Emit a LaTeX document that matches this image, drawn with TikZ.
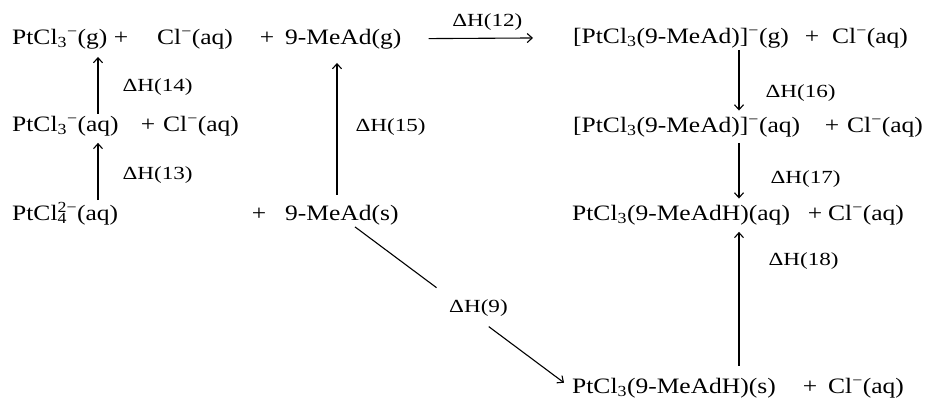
\documentclass[tikz,border=0pt]{standalone}
\usepackage{fontspec}
\setmainfont{Liberation Serif}[FakeStretch=1.16]
\newfontfamily\lblfont{Liberation Serif}[FakeStretch=1.25]
\usetikzlibrary{arrows.meta, calc}
\newcommand{\minus}{\textsuperscript{−}}
\newcommand{\subsup}[2]{\rlap{\textsubscript{#1}}\textsuperscript{#2}}
\tikzset{
    species/.style={anchor=base west, inner sep=2pt, font=\fontsize{22}{26}\selectfont},
    plus/.style={anchor=base, inner sep=2pt, font=\fontsize{22}{26}\selectfont},
    rxn/.style={-{Straight Barb[length=5pt, width=9pt]}, line width=1.1pt},
    lbl/.style={font=\lblfont\fontsize{18.5}{22}\selectfont, inner sep=2pt},
}

\begin{document}
\begin{tikzpicture}[x=1pt, y=-1pt]
    \useasboundingbox (0,0) rectangle (932,400);

    % left side
    \node[species] (A1) at (10,44)  {PtCl\textsubscript{3}\minus(g)};
    \node[plus]    (P1) at (121,44) {+};
    \node[species] (B1) at (155,44) {Cl\minus(aq)};
    \node[plus]    (P2) at (267,44) {+};
    \node[species] (C1) at (283,44) {9-MeAd(g)};

    \node[species] (A2) at (10,131)  {PtCl\textsubscript{3}\minus(aq)};
    \node[plus]    (P3) at (148,131) {+};
    \node[species] (B2) at (161,131) {Cl\minus(aq)};

    \node[species] (A3) at (10,220)  {PtCl\subsup{4}{2−}(aq)};
    \node[plus]    (P4) at (259,220) {+};
    \node[species] (C3) at (283,220) {9-MeAd(s)};

    % right side
    \node[species] (R1) at (571,43)  {[PtCl\textsubscript{3}(9-MeAd)]\minus(g)};
    \node[plus]    (P5) at (812,43)  {+};
    \node[species] (S1) at (830,43)  {Cl\minus(aq)};

    \node[species] (R2) at (571,132) {[PtCl\textsubscript{3}(9-MeAd)]\minus(aq)};
    \node[plus]    (P6) at (832,132) {+};
    \node[species] (S2) at (845,132) {Cl\minus(aq)};

    \node[species] (R3) at (570,220) {PtCl\textsubscript{3}(9-MeAdH)(aq)};
    \node[plus]    (P7) at (815,220) {+};
    \node[species] (S3) at (826,220) {Cl\minus(aq)};

    \node[species] (R4) at (570,393) {PtCl\textsubscript{3}(9-MeAdH)(s)};
    \node[plus]    (P8) at (810,393) {+};
    \node[species] (S4) at (826,393) {Cl\minus(aq)};

    % arrow columns
    \coordinate (xa) at (98,0);
    \coordinate (xc) at (337,0);
    \coordinate (xd) at (355,0);
    \coordinate (xr) at (739,0);

    \draw[rxn, shorten >=6pt] (A2.north -| xa) -- node[lbl, right=22pt, pos=0.42] {ΔH(14)} (A1.south -| xa);
    \draw[rxn, shorten >=5pt] (A3.north -| xa) -- node[lbl, right=22pt, pos=0.4] {ΔH(13)} (A2.south -| xa);
    \draw[rxn, shorten <=8pt, shorten >=12pt] (C3.north -| xc) -- node[lbl, right=16pt, pos=0.5] {ΔH(15)} (C1.south -| xc);

    \draw[rxn, shorten <=25pt, shorten >=38pt] (C1.east) -- node[lbl, above=5pt] {ΔH(12)} (R1.west);

    \draw[rxn, shorten >=4pt] (R1.south -| xr) -- node[lbl, right=24pt, pos=0.66] {ΔH(16)} (R2.north -| xr);
    \draw[rxn, shorten <=4pt, shorten >=4pt] (R2.south -| xr) -- node[lbl, right=29pt, pos=0.63] {ΔH(17)} (R3.north -| xr);
    \draw[rxn, shorten <=10pt, shorten >=5pt] (R4.north -| xr) -- node[lbl, right=27pt, pos=0.77] {ΔH(18)} (R3.south -| xr);

    % broken diagonal
    \draw[line width=1.1pt] (C3.south -| xd) -- ($(C3.south -| xd)!0.39!([xshift=-6pt, yshift=5pt]R4.west)$);
    \draw[rxn] ($(C3.south -| xd)!0.64!([xshift=-6pt, yshift=5pt]R4.west)$) -- ([xshift=-6pt, yshift=5pt]R4.west);
    \node[lbl, anchor=base west] (H9) at (447,312) {ΔH(9)};
\end{tikzpicture}
\end{document}
